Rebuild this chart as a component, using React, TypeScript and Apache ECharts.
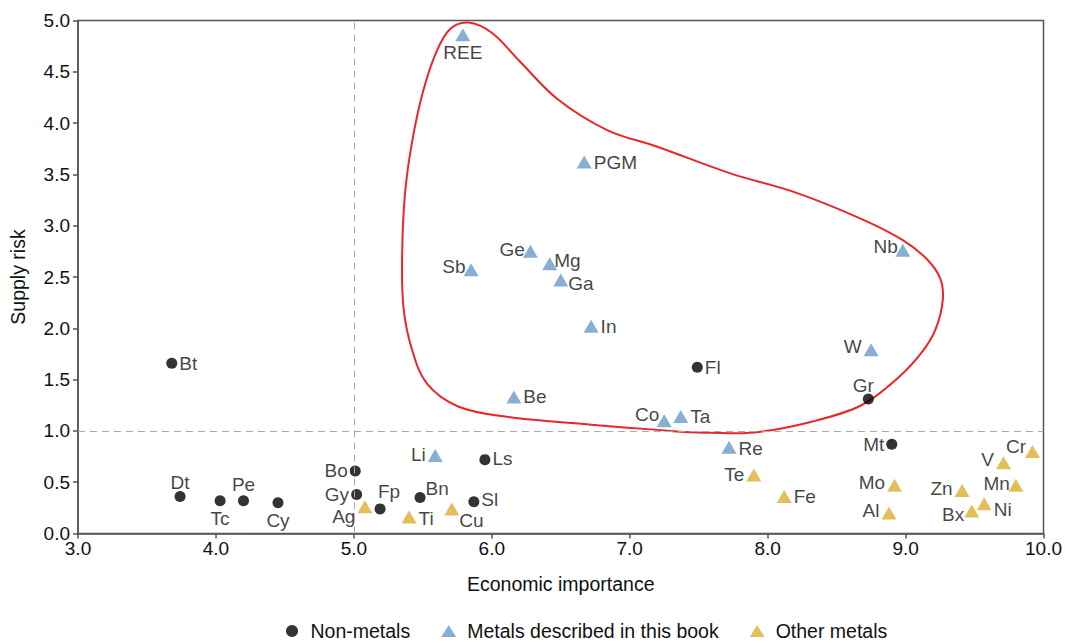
import React, { useEffect, useRef } from "react";
import * as echarts from "echarts";

// Non-metals
const nonMetalNames = ["Bt", "Dt", "Tc", "Pe", "Cy", "Bo", "Gy", "Fp", "Bn", "Sl", "Ls", "Fl", "Gr", "Mt"];
const nonMetalX = [3.68, 3.74, 4.03, 4.2, 4.45, 5.01, 5.02, 5.19, 5.48, 5.87, 5.95, 7.49, 8.73, 8.9];
const nonMetalY = [1.66, 0.36, 0.32, 0.32, 0.3, 0.61, 0.38, 0.24, 0.35, 0.31, 0.72, 1.62, 1.31, 0.87];

// Metals described in this book
const bookNames = ["REE", "PGM", "Ge", "Mg", "Ga", "Sb", "Nb", "In", "Be", "Co", "Ta", "Li", "W", "Re"];
const bookX = [5.79, 6.67, 6.28, 6.42, 6.5, 5.85, 8.98, 6.72, 6.16, 7.25, 7.37, 5.59, 8.75, 7.72];
const bookY = [4.86, 3.62, 2.75, 2.63, 2.47, 2.57, 2.76, 2.02, 1.33, 1.1, 1.14, 0.76, 1.79, 0.84];

// Other metals
const otherNames = ["Ag", "Ti", "Cu", "Te", "Fe", "Mo", "Al", "Zn", "Bx", "Ni", "Mn", "V", "Cr"];
const otherX = [5.08, 5.4, 5.71, 7.9, 8.12, 8.92, 8.88, 9.41, 9.48, 9.57, 9.8, 9.71, 9.92];
const otherY = [0.26, 0.16, 0.24, 0.57, 0.36, 0.47, 0.2, 0.42, 0.22, 0.29, 0.47, 0.69, 0.8];

// Critical region outline (data coordinates, clockwise from the top)
const contourX = [5.83, 6.0, 6.19, 6.48, 6.84, 7.2, 7.73, 8.21, 8.69, 8.98, 9.15, 9.25, 9.27, 9.22, 9.12, 8.94, 8.68, 8.32, 7.9, 7.49, 7.2, 6.72, 6.12, 5.76, 5.53, 5.42, 5.36, 5.35, 5.37, 5.42, 5.5, 5.6, 5.7];
const contourY = [4.98, 4.88, 4.62, 4.23, 3.93, 3.77, 3.51, 3.32, 3.06, 2.86, 2.68, 2.49, 2.28, 2.0, 1.77, 1.51, 1.25, 1.09, 0.985, 0.985, 1.01, 1.06, 1.135, 1.235, 1.46, 1.8, 2.2, 2.7, 3.3, 3.8, 4.3, 4.7, 4.92];

const xTicks = { min: 3, max: 10, interval: 1 };
const yTicks = { min: 0, max: 5, interval: 0.5 };
const thresholdX = 5;
const thresholdY = 1;

const legendNames = ["Non-metals", "Metals described in this book", "Other metals"];

// label placement: [position, dx, dy]
const labelLayout: Record<string, [string, number, number]> = {
  Bt: ["right", 0, 0], Dt: ["top", 0, 3], Tc: ["bottom", 0, 1], Pe: ["top", 0, 1], Cy: ["bottom", 0, 1],
  Bo: ["left", 0, 0], Gy: ["left", 0, 0], Fp: ["top", 9, 0], Bn: ["right", -2, -9], Sl: ["right", 0, -2],
  Ls: ["right", 0, -1], Fl: ["right", 0, 0], Gr: ["top", -5, 3], Mt: ["left", 0, 0],
  REE: ["bottom", 0, 0], PGM: ["right", 0, 0], Ge: ["left", 4, -2], Mg: ["right", -5, -3], Ga: ["right", -2, 3],
  Sb: ["left", 4, -3], Nb: ["left", 4.5, -4], In: ["right", 0, 0], Be: ["right", 0, -1], Co: ["left", 4.5, -6],
  Ta: ["right", 0, 0], Li: ["left", 0, -1], W: ["left", 0, -3], Re: ["right", 0, 1],
  Ag: ["left", 0, 10], Ti: ["right", 0, 1], Cu: ["right", -2, 12], Te: ["left", 0, -1], Fe: ["right", 0, 0],
  Mo: ["left", 0, -3], Al: ["left", 0, -2], Zn: ["left", 0, -2], Bx: ["left", 2, 4], Ni: ["right", 0, 6],
  Mn: ["left", 3.5, -2], V: ["left", 0, -3], Cr: ["left", 3, -5],
};

const FONT = "'Liberation Sans', Helvetica, Arial, sans-serif";

function makeData(names: string[], xs: number[], ys: number[]) {
  return names.map((n, i) => {
    const l = labelLayout[n] || ["right", 0, 0];
    return {
      name: n,
      value: [xs[i], ys[i]],
      label: { position: l[0], offset: [l[1], l[2]] },
    };
  });
}

export default function App() {
  const ref = useRef<HTMLDivElement>(null);
  useEffect(() => {
    if (!ref.current) return;
    const chart = echarts.init(ref.current, null, { renderer: "svg" });
    const labelBase = {
      show: true,
      formatter: "{b}",
      color: "#111111",
      fontSize: 19,
      fontFamily: FONT,
      distance: 2,
    };
    const axisCommon = {
      axisLine: { show: true, lineStyle: { color: "#555", width: 1.5 } },
      axisTick: { show: true, inside: false, length: 5, lineStyle: { color: "#555", width: 1.5 } },
      splitLine: { show: false },
      nameTextStyle: { color: "#111111", fontSize: 19.5, fontFamily: FONT },
    };
    chart.setOption({
      animation: false,
      backgroundColor: "#ffffff",
      textStyle: { fontFamily: FONT },
      grid: {
        left: 76,
        right: 16,
        top: 20.5,
        bottom: 109.5,
        show: true,
        borderColor: "#555",
        borderWidth: 1.5,
        containLabel: false,
      },
      legend: {
        data: [
          { name: legendNames[0], icon: "circle" },
          { name: legendNames[1], icon: "triangle" },
          { name: legendNames[2], icon: "triangle" },
        ],
        left: 286,
        top: 621,
        padding: 0,
        itemWidth: 15,
        itemHeight: 12,
        itemGap: 31,
        textStyle: { color: "#111111", fontSize: 19.5, fontFamily: FONT, padding: [0, 0, 0, 6] },
      },
      xAxis: {
        type: "value",
        min: xTicks.min,
        max: xTicks.max,
        interval: xTicks.interval,
        name: "Economic importance",
        nameLocation: "middle",
        nameGap: 40,
        axisLabel: {
          color: "#111111",
          fontSize: 19,
          fontFamily: FONT,
          margin: 5,
          formatter: (v: number) => v.toFixed(1),
        },
        ...axisCommon,
      },
      yAxis: {
        type: "value",
        min: yTicks.min,
        max: yTicks.max,
        interval: yTicks.interval,
        name: "Supply risk",
        nameLocation: "middle",
        nameGap: 50,
        axisLabel: {
          color: "#111111",
          fontSize: 19,
          fontFamily: FONT,
          margin: 8,
          formatter: (v: number) => v.toFixed(1),
        },
        ...axisCommon,
      },
      series: [
        {
          type: "custom",
          name: "Critical region",
          silent: true,
          z: 1,
          clip: false,
          data: [[contourX[0], contourY[0]]],
          renderItem: (params: any, api: any) => {
            const pts = contourX.map((x, i) => api.coord([x, contourY[i]]));
            return {
              type: "polygon",
              shape: { points: pts, smooth: 0.35 },
              style: { fill: "none", stroke: "#e8262b", lineWidth: 2 },
            };
          },
        },
        {
          type: "scatter",
          name: legendNames[0],
          symbol: "circle",
          symbolSize: 11,
          z: 3,
          itemStyle: { color: "#000000" },
          label: labelBase,
          data: makeData(nonMetalNames, nonMetalX, nonMetalY),
          markLine: {
            silent: true,
            symbol: "none",
            label: { show: false },
            lineStyle: { color: "#aaaaaa", type: [7, 5], width: 1 },
            data: [{ xAxis: thresholdX }, { yAxis: thresholdY }],
          },
        },
        {
          type: "scatter",
          name: legendNames[1],
          symbol: "triangle",
          symbolSize: [15, 13],
          z: 3,
          itemStyle: { color: "#6a9bc8" },
          label: labelBase,
          data: makeData(bookNames, bookX, bookY),
        },
        {
          type: "scatter",
          name: legendNames[2],
          symbol: "triangle",
          symbolSize: [15, 13],
          z: 3,
          itemStyle: { color: "#dcae32" },
          label: labelBase,
          data: makeData(otherNames, otherX, otherY),
        },
      ],
    });
    return () => chart.dispose();
  }, []);
  return (
    <div
      ref={ref}
      style={{ position: "fixed", left: 0, top: 0, width: 1065, height: 643, background: "#fff" }}
    />
  );
}
